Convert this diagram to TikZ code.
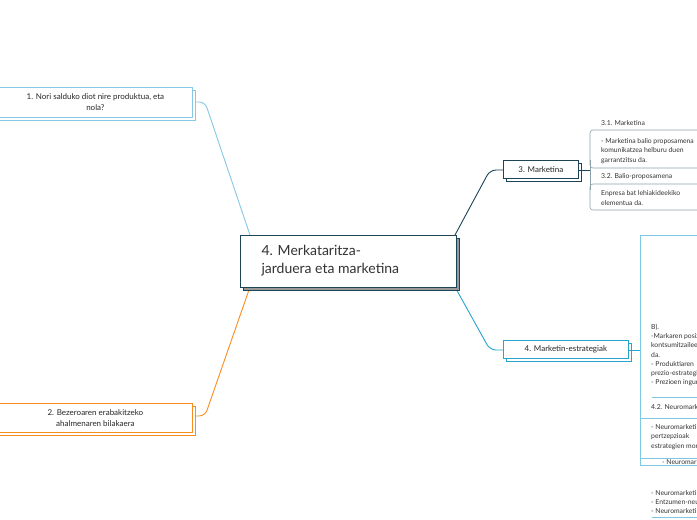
\documentclass[tikz,border=0pt]{standalone}
\usepackage{fontspec}
\setmainfont{Lato}
\definecolor{cone}{RGB}{135,200,230}
\definecolor{cthree}{RGB}{28,68,88}
\definecolor{cfour}{RGB}{40,165,205}
\definecolor{corg}{RGB}{250,140,30}
\begin{document}
\begin{tikzpicture}[x=1pt,y=-1pt,
  box/.style={draw=#1,fill=white,line width=0.8pt,inner sep=0pt},
  conn/.style={draw=#1,line width=0.9pt,rounded corners=6pt},
  small/.style={font=\fontsize{6.8}{9.3}\selectfont,text=black!80,anchor=west,align=left,inner sep=0pt},
  thin/.style={draw=#1,line width=0.6pt}]
\fill[white!97!blue!1] (0,0) rectangle (697,520);
\useasboundingbox (0,0) rectangle (697,520);
\begin{scope}
\clip (0,0) rectangle (697,520);
\draw[conn=cone] (195,102) -- (205,102) -- (250,235);
\draw[conn=corg] (195,416) -- (205,416) -- (250,287);
\draw[conn=cthree] (455,235) -- (490,170) -- (503,170);
\draw[conn=cfour] (455,287) -- (490,350) -- (503,350);
% center
\draw[box=cthree,fill=black!40] (243,238) rectangle (459,290);
\node[box=cthree,minimum width=216pt,minimum height=52pt,anchor=north west] (c) at (240,235) {};
\node[anchor=west,align=left,font=\fontsize{14}{18}\selectfont,text=black!80] (ct) at (258,261) {4. Merkataritza-\\jarduera eta marketina};
% node 1
\draw[box=cone] (-2,90) rectangle (195,120);
\node[box=cone,minimum width=194pt,minimum height=30pt,anchor=north west,align=center,font=\fontsize{8}{11}\selectfont,text=black!85] (n1) at (-2,87) {1. Nori salduko diot nire produktua, eta\\nola?};
% node 2
\draw[box=corg] (-2,406) rectangle (195,435);
\node[box=corg,minimum width=194pt,minimum height=29pt,anchor=north west,align=center,font=\fontsize{8}{11}\selectfont,text=black!85] (n2) at (-2,403) {2. Bezeroaren erabakitzeko\\ahalmenaren bilakaera};
% node 3
\draw[box=cthree] (506,163) rectangle (581,181);
\node[box=cthree,minimum width=75pt,minimum height=18pt,anchor=north west,font=\fontsize{8}{9}\selectfont,text=black!85] (n3) at (503,160) {3. Marketina};
% node 4
\draw[box=cfour] (506,343) rectangle (631,361);
\node[box=cfour,minimum width=125pt,minimum height=18pt,anchor=north west,font=\fontsize{8}{9}\selectfont,text=black!85] (n4) at (503,340) {4. Marketin-estrategiak};
% marketina details
\draw[conn=cthree] (578,170) -- (590,170);
\draw[thin={cthree!50},rounded corners=3pt] (700,130) -- (590,130) -- (590,168) -- (700,168);
\draw[thin={cthree!50},rounded corners=3pt] (700,184) -- (590,184) -- (590,210) -- (700,210);
\draw[thin={cthree!50}] (590,160) -- (590,190);
\node[small] (a1) at (601,123) {3.1. Marketina};
\node[small] (a2) at (601,151) {- Marketina balio proposamena\\komunikatzea helburu duen\\garrantzitsu da.};
\node[small] (a3) at (601,177) {3.2. Balio-proposamena};
\node[small] (a4) at (601,198) {Enpresa bat lehiakideekiko\\elementua da.};
% estrategiak details
\draw[conn=cfour] (628,350) -- (640,350);
\draw[thin={cfour!60}] (700,235) -- (640,235) -- (640,465) -- (700,465);
\draw[thin={cfour!60}] (652,397) -- (700,397);
\draw[thin={cfour!60}] (640,418) -- (700,418);
\draw[thin={cfour!60}] (640,458) -- (700,458);
\draw[thin={cfour!60}] (652,517) -- (700,517);
\node[small] (b1) at (651,355) {B).\\-Markaren posizioa\\kontsumitzaileen buruan\\da.\\- Produktiaren\\prezio-estrategia\\- Prezioen ingurua};
\node[small] (b2) at (651,407) {4.2. Neuromarketina};
\node[small] (b3) at (651,437) {- Neuromarketina\\pertzepzioak\\estrategien monitorizazioa};
\node[small] (b4) at (662,462) {- Neuromarketina};
\node[small] (b5) at (651,502) {- Neuromarketina\\- Entzumen-neuromarketina\\- Neuromarketina};
\end{scope}
\end{tikzpicture}
\end{document}
